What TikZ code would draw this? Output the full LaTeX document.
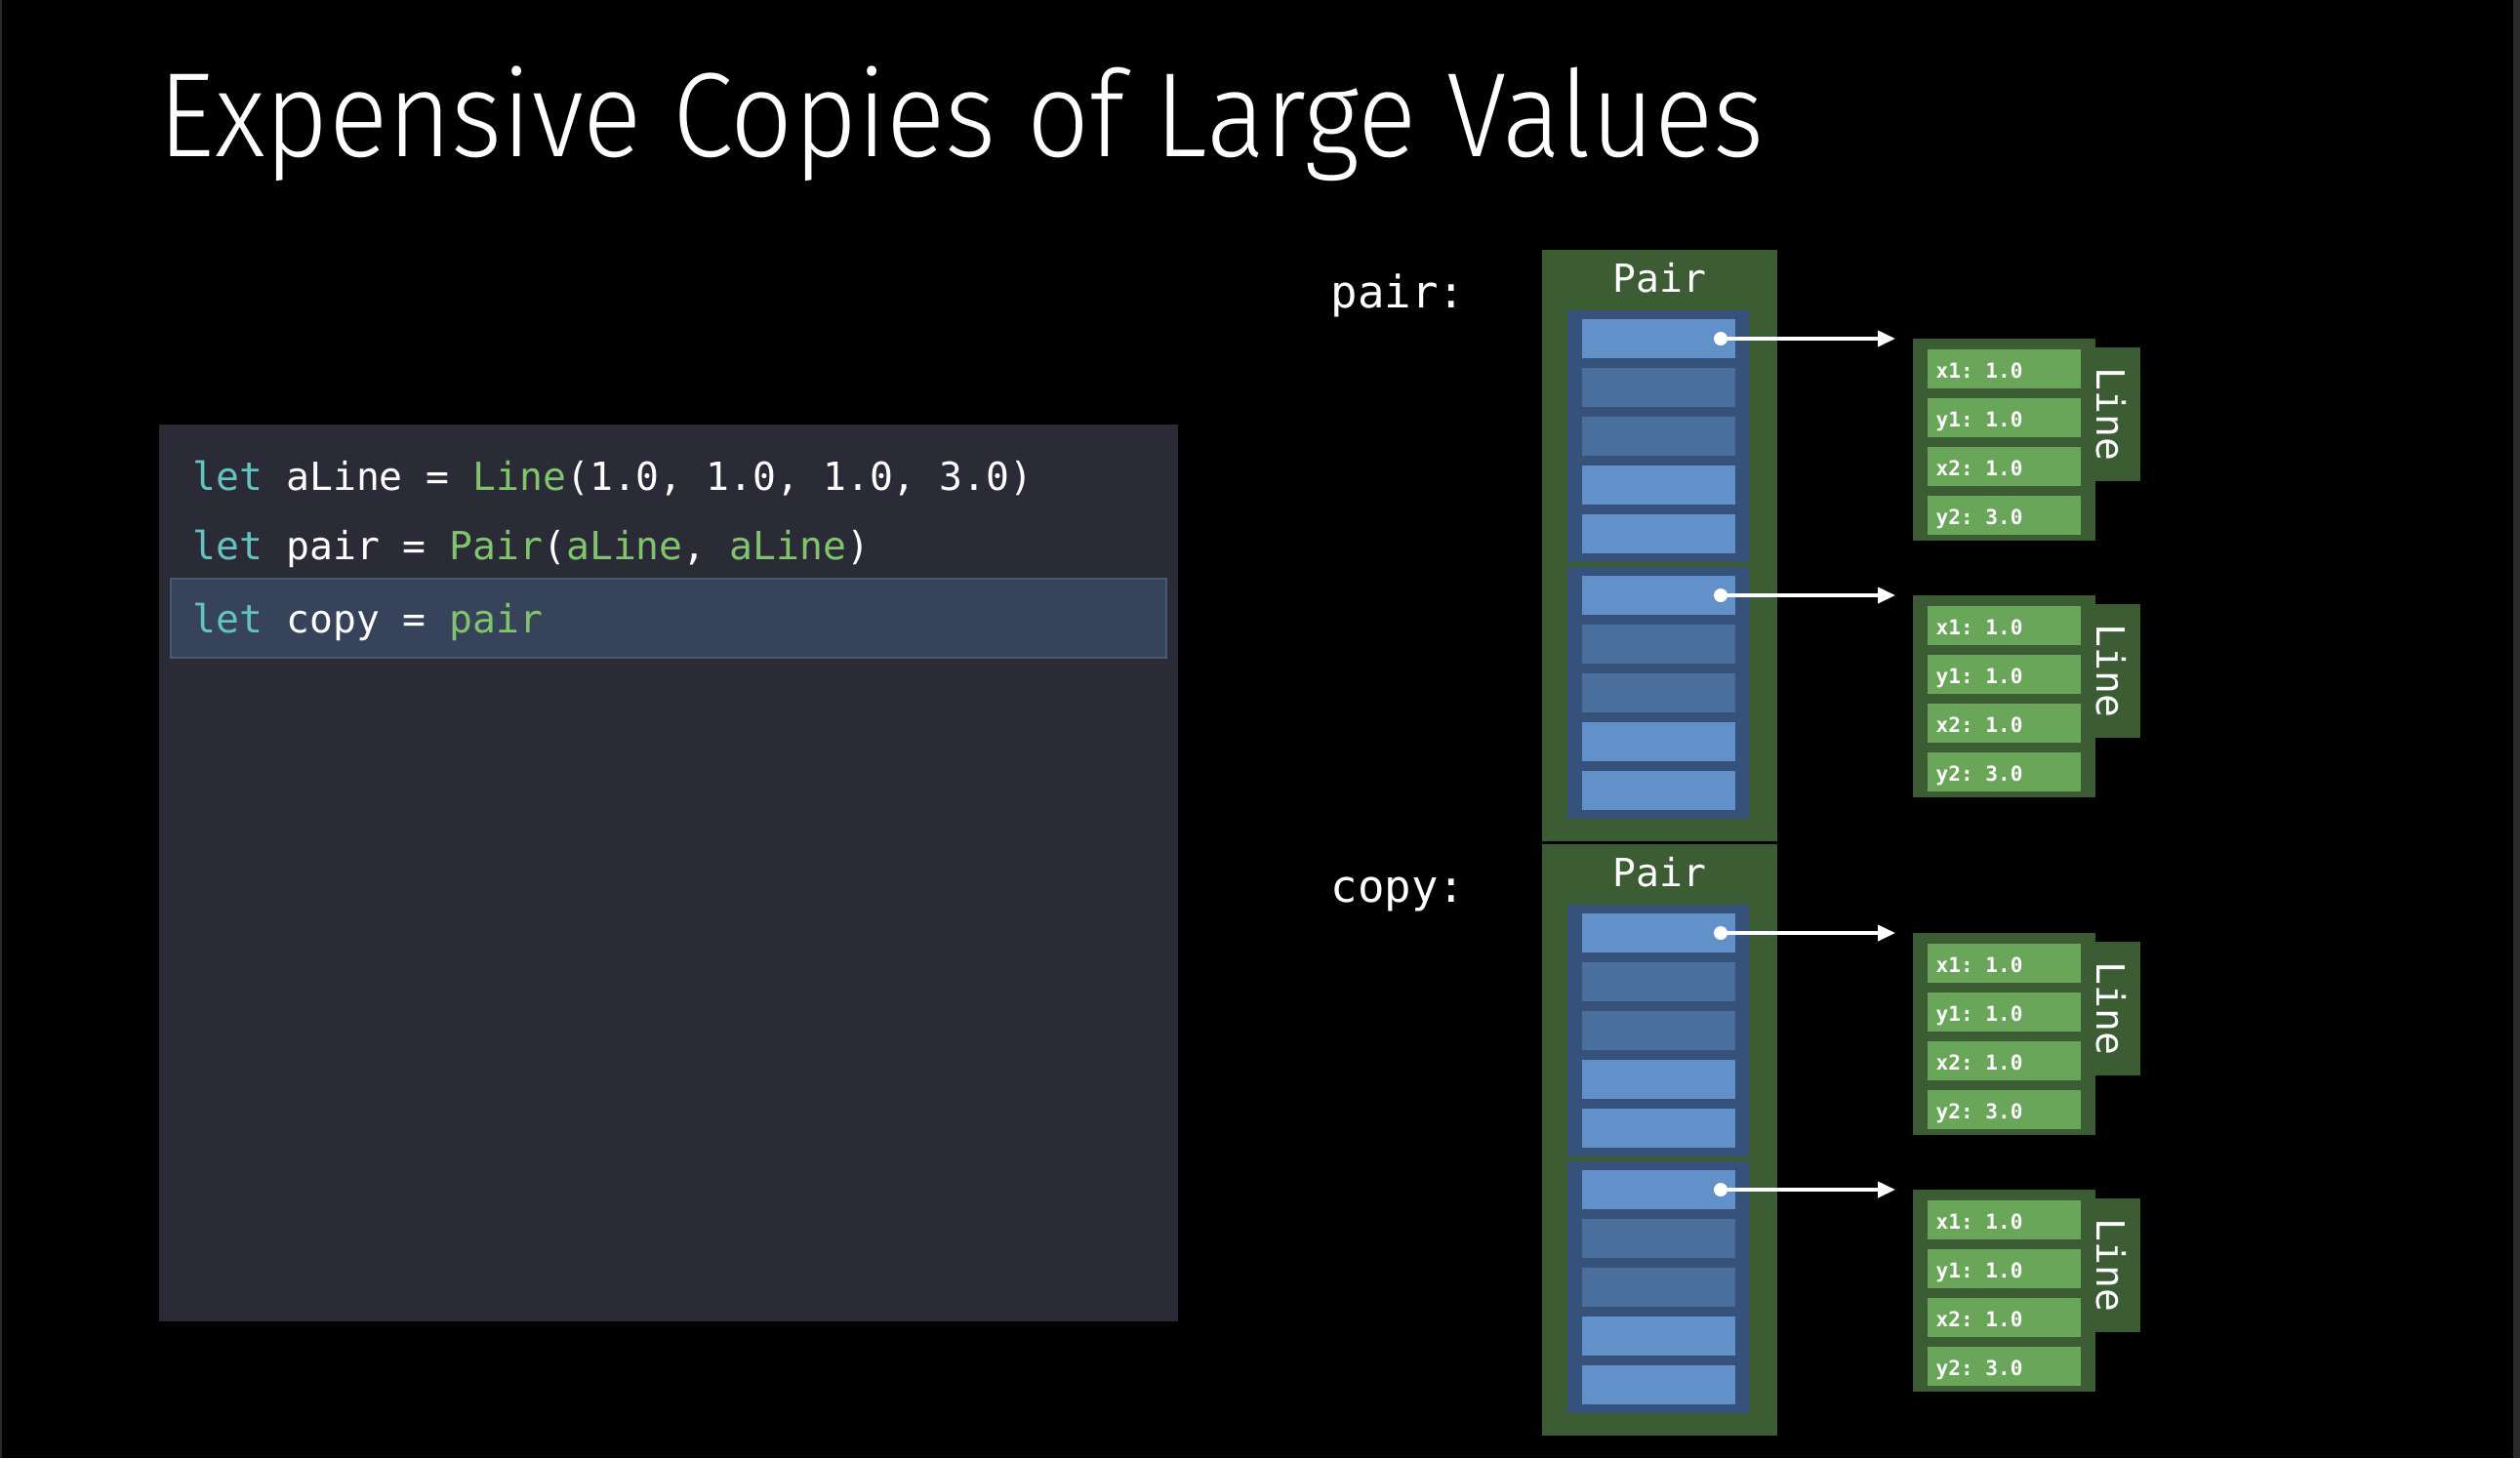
\documentclass[tikz,border=0pt]{standalone}
\usepackage{fontspec}
\setmonofont{DejaVu Sans Mono}
\newfontfamily\titlefont{Fira Sans Light}
\usepackage{tikz}
\usetikzlibrary{arrows.meta,positioning,calc}
\definecolor{codebg}{HTML}{2B2B37}
\definecolor{hlfill}{HTML}{36435A}
\definecolor{hlline}{HTML}{4B5870}
\definecolor{edge}{HTML}{2A2A2A}
\definecolor{kw}{HTML}{62C3C1}
\definecolor{ty}{HTML}{80C56C}
\definecolor{pairgr}{HTML}{3C5C34}
\definecolor{grp}{HTML}{36527A}
\definecolor{celllt}{HTML}{6290C8}
\definecolor{celldk}{HTML}{4A6F9D}
\definecolor{fieldgr}{HTML}{6AA65A}
\newcommand{\Kw}[1]{\textcolor{kw}{#1}}
\newcommand{\Ty}[1]{\textcolor{ty}{#1}}

\tikzset{
  box/.style={anchor=north west, inner sep=0pt, outer sep=0pt},
  pairbox/.style={box, fill=pairgr, minimum width=2.41cm, minimum height=6.06cm},
  group/.style={box, fill=grp, minimum width=1.86cm, minimum height=2.58cm},
  cell/.style={box, minimum width=1.57cm, minimum height=0.40cm},
  linebox/.style={box, fill=pairgr, minimum width=1.87cm, minimum height=2.07cm},
  linetab/.style={box, fill=pairgr, minimum width=0.46cm, minimum height=1.37cm},
  field/.style={box, fill=fieldgr, minimum width=1.57cm, minimum height=0.40cm},
  fieldtxt/.style={anchor=base west, inner sep=0pt, text=white, font=\fontsize{6}{7}\selectfont\ttfamily\bfseries},
  codetxt/.style={anchor=base west, inner sep=0pt, text=white, font=\fontsize{11.3}{14}\selectfont\ttfamily},
  ptr/.style={draw=white, line width=1.1pt, -{Triangle[length=0.18cm, width=0.16cm]}, shorten >=0.18cm},
  dot/.style={circle, fill=white, inner sep=0pt, minimum size=0.14cm},
}

\begin{document}
\begin{tikzpicture}
  \fill[black] (0,0) rectangle (25.82,-14.94);
  \useasboundingbox (0,0) rectangle (25.82,-14.94);
  \fill[edge] (0,0) rectangle (0.02,-14.94);
  \fill[edge] (25.75,0) rectangle (25.82,-14.94);

  % title
  \node[anchor=base west, inner sep=0pt, text=white, font=\titlefont\fontsize{35}{40}\selectfont] (title) at (1.62,-1.60)
    {\scalebox{0.913}[1]{Expensive Copies of Large Values}};

  % code panel
  \node[box, fill=codebg, minimum width=10.44cm, minimum height=9.19cm] (code) at (1.63,-4.35) {};
  \node[box, fill=hlfill, draw=hlline, line width=0.5pt, minimum width=10.20cm, minimum height=0.81cm] (hl) at (1.75,-5.93) {};
  \node[codetxt] (line1) at (1.97,-5.02) {\Kw{let} aLine = \Ty{Line}(1.0, 1.0, 1.0, 3.0)};
  \node[codetxt] (line2) at (1.97,-5.73) {\Kw{let} pair = \Ty{Pair}(\Ty{aLine}, \Ty{aLine})};
  \node[codetxt] (line3) at (1.97,-6.48) {\Kw{let} copy = \Ty{pair}};

  % memory layout
  \foreach \var/\ytop in {pair/2.56, copy/8.65}{
    \node[codetxt, font=\fontsize{13}{15}\selectfont\ttfamily] (\var-lbl) at (13.63,{-\ytop-0.59}) {\var:};
    \node[pairbox] (\var) at (15.80,-\ytop) {};
    \node[codetxt, anchor=base] (\var-name) at ([yshift=-0.43cm]\var.north) {Pair};
    \foreach \g/\gy in {1/0.62, 2/3.25}{
      \node[group] (\var-g\g) at ([xshift=0.26cm, yshift=-\gy cm]\var.north west) {};
      \foreach \k/\c in {1/celllt, 2/celldk, 3/celldk, 4/celllt, 5/celllt}{
        \node[cell, fill=\c] (\var-g\g-c\k) at ([xshift=0.15cm, yshift={-(0.09+(\k-1)*0.50)*1cm}]\var-g\g.north west) {};
      }
      \node[dot] (\var-g\g-d) at ([xshift=-0.15cm]\var-g\g-c1.east) {};
      % Line struct
      \node[linebox] (\var-s\g) at (19.60,0 |- \var-g\g-d) {};
      \node[linetab] (\var-t\g) at ([yshift=-0.09cm]\var-s\g.north east) {};
      \node[codetxt, anchor=center, rotate=-90] (\var-tl\g) at ([xshift=-0.07cm]\var-t\g.center) {Line};
      \foreach \k/\f/\val in {1/x1/1.0, 2/y1/1.0, 3/x2/1.0, 4/y2/3.0}{
        \node[field] (\var-s\g-f\k) at ([xshift=0.15cm, yshift={-(0.11+(\k-1)*0.50)*1cm}]\var-s\g.north west) {};
        \node[fieldtxt] (\var-s\g-v\k) at ([xshift=0.08cm, yshift=-0.09cm]\var-s\g-f\k.west) {\f: \val};
      }
      \draw[ptr] (\var-g\g-d.center) -- (\var-s\g.north west);
    }
  }
\end{tikzpicture}
\end{document}
